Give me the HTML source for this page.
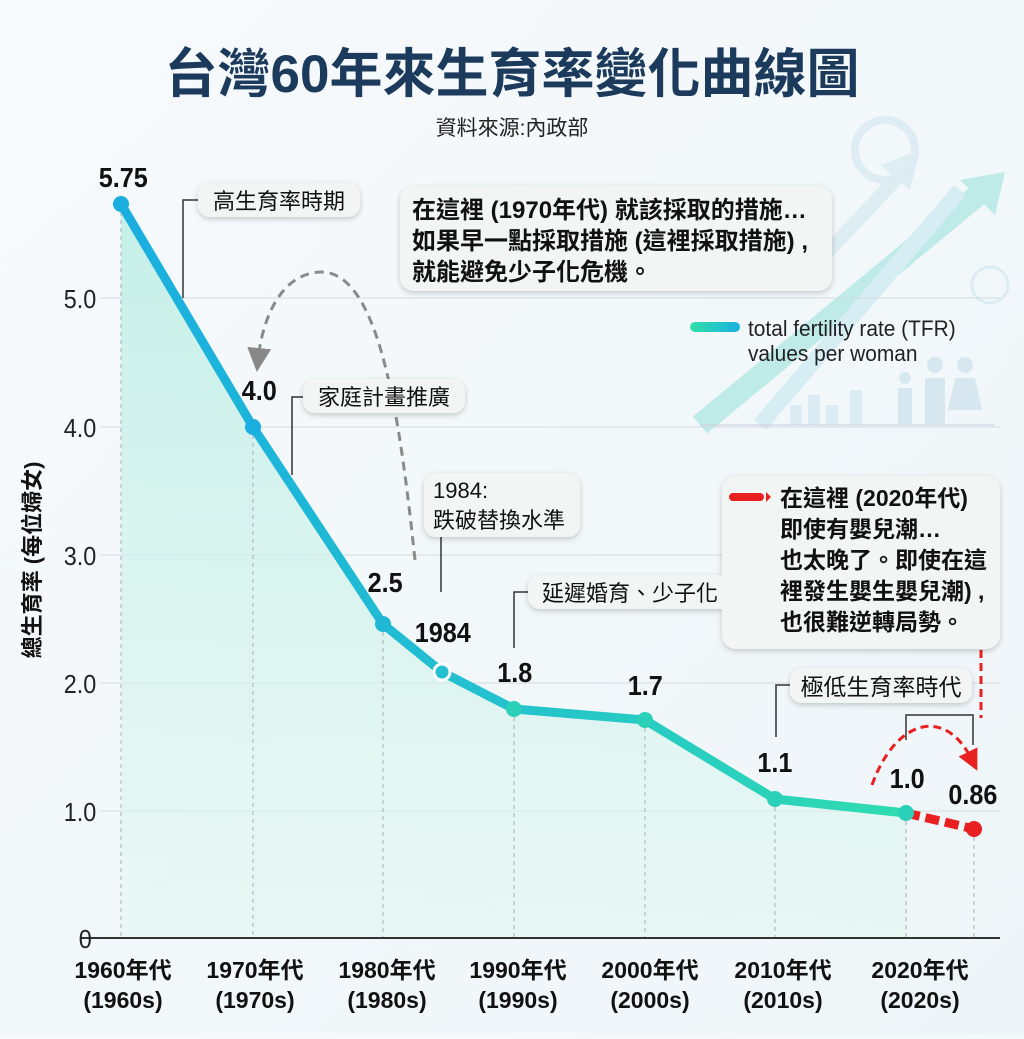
<!DOCTYPE html>
<html><head><meta charset="utf-8"><style>
body{margin:0;width:1024px;height:1034px;overflow:hidden;background:linear-gradient(135deg,#f7fafc,#eef5f8);}
svg text{font-family:"Liberation Sans","Noto Sans CJK TC",sans-serif;}
</style></head><body>
<svg width="1024" height="1034" viewBox="0 0 1024 1034" xmlns="http://www.w3.org/2000/svg">
<defs>
<linearGradient id="lg" x1="121" y1="0" x2="906" y2="0" gradientUnits="userSpaceOnUse">
<stop offset="0" stop-color="#1aaee0"/><stop offset="0.45" stop-color="#22c0d0"/><stop offset="1" stop-color="#2fdcb0"/></linearGradient>
<linearGradient id="fg" x1="0" y1="200" x2="0" y2="938" gradientUnits="userSpaceOnUse">
<stop offset="0" stop-color="#bfeee6" stop-opacity="0.9"/><stop offset="1" stop-color="#e3f7f2" stop-opacity="0.6"/></linearGradient>
<linearGradient id="leg" x1="0" x2="1"><stop offset="0" stop-color="#2fe0a8"/><stop offset="1" stop-color="#1ab0e0"/></linearGradient>
<filter id="sh" x="-10%" y="-20%" width="120%" height="150%"><feDropShadow dx="0" dy="2" stdDeviation="3" flood-color="#000" flood-opacity="0.2"/></filter>
<marker id="ga" markerWidth="8" markerHeight="8" refX="4" refY="4" orient="auto"><path d="M0,0 L8,4 L0,8z" fill="#888"/></marker>
<marker id="ra" markerWidth="7" markerHeight="7" refX="3" refY="3.5" orient="auto"><path d="M0,0 L7,3.5 L0,7z" fill="#e82020"/></marker>
</defs>
<g opacity="0.35">
<path d="M700 425 L990 185" stroke="#5fd3c8" stroke-width="22"/><path d="M1005 172 L960 180 L995 215z" fill="#5fd3c8"/>
<path d="M760 425 L960 190" stroke="#a8dcea" stroke-width="16"/>
<path d="M820 260 L900 175" stroke="#b8dde8" stroke-width="14"/><path d="M920 150 L880 165 L910 190z" fill="#b8dde8"/>
<circle cx="885" cy="150" r="30" fill="none" stroke="#b8d8e8" stroke-width="8"/>
<circle cx="990" cy="285" r="18" fill="none" stroke="#b8d8e8" stroke-width="3"/>
<rect x="790" y="405" width="12" height="20" fill="#b8d8ea"/><rect x="808" y="395" width="12" height="30" fill="#b8d8ea"/><rect x="826" y="405" width="12" height="20" fill="#b8d8ea"/><rect x="850" y="390" width="12" height="35" fill="#b8d8ea"/>
<circle cx="905" cy="378" r="6" fill="#a8cce0"/><rect x="898" y="388" width="14" height="36" fill="#a8cce0"/>
<circle cx="935" cy="365" r="8" fill="#a8cce0"/><rect x="925" y="378" width="20" height="46" fill="#a8cce0"/>
<circle cx="965" cy="365" r="8" fill="#a8cce0"/><path d="M955 378 L975 378 L982 410 L948 410z" fill="#a8cce0"/>
</g>
<line x1="700" y1="425" x2="995" y2="425" stroke="#ccd" stroke-width="1"/>
<text x="512" y="92" text-anchor="middle" font-size="53" font-weight="bold" fill="#1b3a5c">台灣60年來生育率變化曲線圖</text>
<text x="512" y="135" text-anchor="middle" font-size="21" fill="#222">資料來源:內政部</text>
<g stroke="#d4dadf" stroke-width="1">
<line x1="100" y1="298" x2="1000" y2="298"/><line x1="100" y1="427" x2="1000" y2="427"/><line x1="100" y1="555" x2="1000" y2="555"/><line x1="100" y1="683" x2="1000" y2="683"/><line x1="100" y1="811" x2="1000" y2="811"/>
</g>
<path d="M121 204 L253 427 L383 624 L442 672 L514 709 L645 720 L775 799 L906 813 L906 938 L121 938z" fill="url(#fg)"/>
<g stroke="#aab" stroke-width="1" stroke-dasharray="4,4">
<line x1="121" y1="204" x2="121" y2="938"/><line x1="253" y1="427" x2="253" y2="938"/><line x1="383" y1="624" x2="383" y2="938"/><line x1="514" y1="709" x2="514" y2="938"/><line x1="645" y1="720" x2="645" y2="938"/><line x1="775" y1="799" x2="775" y2="938"/><line x1="906" y1="813" x2="906" y2="938"/><line x1="974" y1="829" x2="974" y2="938"/>
</g>
<line x1="80" y1="938" x2="1000" y2="938" stroke="#333" stroke-width="2"/>
<g font-size="26" fill="#222" text-anchor="end" transform="scale(0.9,1)">
<text x="107" y="308">5.0</text><text x="107" y="437">4.0</text><text x="107" y="565">3.0</text><text x="107" y="693">2.0</text><text x="107" y="821">1.0</text><text x="102" y="948">0</text>
</g>
<text transform="translate(40,560) rotate(-90)" text-anchor="middle" font-size="22" font-weight="bold" fill="#111">總生育率 (每位婦女)</text>
<g font-size="23" font-weight="bold" fill="#111" text-anchor="middle">
<text x="123" y="978">1960年代</text><text x="123" y="1008">(1960s)</text>
<text x="255" y="978">1970年代</text><text x="255" y="1008">(1970s)</text>
<text x="387" y="978">1980年代</text><text x="387" y="1008">(1980s)</text>
<text x="518" y="978">1990年代</text><text x="518" y="1008">(1990s)</text>
<text x="650" y="978">2000年代</text><text x="650" y="1008">(2000s)</text>
<text x="783" y="978">2010年代</text><text x="783" y="1008">(2010s)</text>
<text x="920" y="978">2020年代</text><text x="920" y="1008">(2020s)</text>
</g>
<path d="M121 204 L253 427 L383 624 L442 672 L514 709 L645 720 L775 799 L906 813" fill="none" stroke="url(#lg)" stroke-width="9" stroke-linejoin="round"/>
<line x1="906" y1="813" x2="974" y2="829" stroke="#e82020" stroke-width="9" stroke-dasharray="14,6"/>
<g fill="#1aaee0"><circle cx="121" cy="204" r="8"/><circle cx="253" cy="427" r="8"/><circle cx="383" cy="624" r="8" fill="#20b8d4"/></g>
<circle cx="442" cy="672" r="8" fill="#22c0d0" stroke="#fff" stroke-width="3"/>
<g fill="#2ad0b8"><circle cx="514" cy="709" r="8"/><circle cx="645" cy="720" r="8"/><circle cx="775" cy="799" r="8"/><circle cx="906" cy="813" r="8"/></g>
<circle cx="974" cy="829" r="8" fill="#e82020"/>
<g font-size="28" font-weight="bold" fill="#111" text-anchor="middle" transform="scale(0.9,1)">
<text x="137" y="187">5.75</text><text x="288" y="400">4.0</text><text x="428" y="592">2.5</text><text x="492" y="642">1984</text><text x="572" y="682">1.8</text><text x="717" y="695">1.7</text><text x="861" y="772">1.1</text><text x="1008" y="788">1.0</text><text x="1081" y="804">0.86</text>
</g>
<g stroke="#333" stroke-width="1.5" fill="none">
<path d="M183 298 L183 200 L198 200"/><path d="M292 475 L292 397 L303 397"/><path d="M441 592 L441 537"/><path d="M514 648 L514 592 L528 592"/><path d="M776 737 L776 685 L790 685"/><path d="M906 740 L906 715 L973 715 L973 745"/>
</g>
<path d="M415 560 C400 420 380 270 320 272 C280 274 262 320 258 360" fill="none" stroke="#8a8a8a" stroke-width="3" stroke-dasharray="9,6" marker-end="url(#ga)"/>
<path d="M872 785 C895 720 945 705 972 760" fill="none" stroke="#e82020" stroke-width="3" stroke-dasharray="8,5" marker-end="url(#ra)"/>
<line x1="981" y1="650" x2="981" y2="718" stroke="#e82020" stroke-width="3" stroke-dasharray="8,5"/>
<g filter="url(#sh)" fill="#f3f4f4">
<rect x="198" y="183" width="162" height="34" rx="12"/>
<rect x="400" y="186" width="432" height="105" rx="14"/>
<rect x="303" y="379" width="162" height="34" rx="12"/>
<rect x="424" y="473" width="156" height="64" rx="12"/>
<rect x="528" y="575" width="204" height="34" rx="12"/>
<rect x="722" y="476" width="278" height="173" rx="14"/>
<rect x="790" y="668" width="182" height="35" rx="12"/>
</g>
<g font-size="22" fill="#111">
<text x="279" y="209" text-anchor="middle">高生育率時期</text>
<text x="384" y="405" text-anchor="middle">家庭計畫推廣</text>
<text x="433" y="498">1984:</text><text x="433" y="528">跌破替換水準</text>
<text x="630" y="601" text-anchor="middle">延遲婚育、少子化</text>
</g>
<g font-size="24" font-weight="bold" fill="#111">
<text x="412" y="218">在這裡 (1970年代) 就該採取的措施…</text>
<text x="412" y="249">如果早一點採取措施 (這裡採取措施) ,</text>
<text x="412" y="280">就能避免少子化危機。</text>
</g>
<g font-size="23" font-weight="bold" fill="#111">
<text x="780" y="506">在這裡 (2020年代)</text>
<text x="780" y="537">即使有嬰兒潮…</text>
<text x="780" y="568">也太晚了。即使在這</text>
<text x="780" y="599">裡發生嬰生嬰兒潮) ,</text>
<text x="780" y="630">也很難逆轉局勢。</text>
<text x="881" y="695" text-anchor="middle" font-weight="normal">極低生育率時代</text>
</g>
<line x1="733" y1="497" x2="760" y2="497" stroke="#e82020" stroke-width="8" stroke-linecap="round"/>
<path d="M766 492 L771 497 L766 502z" fill="#e82020"/>
<rect x="690" y="322" width="50" height="10" rx="5" fill="url(#leg)"/>
<text x="748" y="336" font-size="22" fill="#222" transform="translate(748,0) scale(0.95,1) translate(-748,0)">total fertility rate (TFR)</text>
<text x="748" y="361" font-size="22" fill="#222" transform="translate(748,0) scale(0.95,1) translate(-748,0)">values per woman</text>
</svg>
</body></html>
